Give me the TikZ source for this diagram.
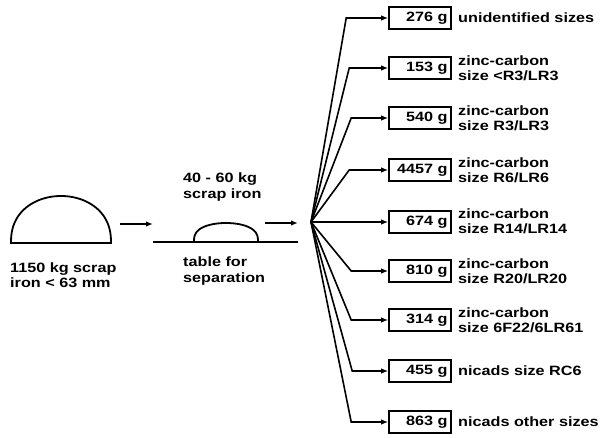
\documentclass[tikz,border=0pt]{standalone}
\usepackage{fontspec}
\newfontfamily\lab[FakeStretch=1.2]{Liberation Sans Bold}
\usetikzlibrary{arrows.meta}
\begin{document}
\begin{tikzpicture}[x=1pt,y=-1pt,
  every node/.style={font=\lab\fontsize{13.5}{15.5}\selectfont, inner sep=0pt},
  amount/.style={draw, line width=1.6pt, minimum width=62pt, minimum height=22pt, text width=55pt, align=right},
  lbl/.style={anchor=west, align=left},
  fan/.style={line width=1.6pt, -{Latex[length=7pt,width=5.5pt]}},
  outline/.style={line width=1.8pt},
]
\useasboundingbox (0,0) rectangle (610,438);

% left heap
\draw[outline] plot[domain=0:180, samples=80, smooth] ({61+50*cos(\x)}, {243-47*(sin(\x))^0.85}) -- cycle;
\node[lbl] (heaplabel) at (10,275) {1150 kg scrap\\iron < 63 mm};

% arrow to table
\coordinate (a1s) at (120,224);
\coordinate (a1e) at (153,224);
\draw[fan] (a1s) -- (a1e);

% table with small heap
\coordinate (tl) at (153,242);
\coordinate (tr) at (298,242);
\draw[line width=2.4pt] (tl) -- (tr);
\draw[outline] plot[domain=0:180, samples=80, smooth] ({226+32*cos(\x)}, {242-19*(sin(\x))^0.7});
\node[lbl] (small) at (183,187) {40 - 60 kg\\scrap iron};
\node[lbl] (table) at (183,271) {table for\\separation};

% arrow to fan
\coordinate (a2s) at (265,223);
\coordinate (a2e) at (298,223);
\draw[fan] (a2s) -- (a2e);

% fan origin
\coordinate (o) at (311,222);

% boxes
\node[amount] (b1) at (420,18) {276 g};
\node[amount] (b2) at (420,68) {153 g};
\node[amount] (b3) at (420,118) {540 g};
\node[amount] (b4) at (420,170) {4457 g};
\node[amount] (b5) at (420,222) {674 g};
\node[amount] (b6) at (420,271) {810 g};
\node[amount] (b7) at (420,320) {314 g};
\node[amount] (b8) at (420,371) {455 g};
\node[amount] (b9) at (420,422) {863 g};

% labels
\node[lbl] (l1) at (458,18) {unidentified sizes};
\node[lbl] (l2) at (458,68) {zinc-carbon\\size <R3/LR3};
\node[lbl] (l3) at (458,118) {zinc-carbon\\size R3/LR3};
\node[lbl] (l4) at (458,170) {zinc-carbon\\size R6/LR6};
\node[lbl] (l5) at (458,221) {zinc-carbon\\size R14/LR14};
\node[lbl] (l6) at (458,271) {zinc-carbon\\size R20/LR20};
\node[lbl] (l7) at (458,320) {zinc-carbon\\size 6F22/6LR61};
\node[lbl] (l8) at (458,371) {nicads size RC6};
\node[lbl] (l9) at (458,422) {nicads other sizes};

% fan connectors
\draw[fan] (o) -- ([xshift=-42pt]b1.west) -- (b1.west);
\draw[fan] (o) -- ([xshift=-39pt]b2.west) -- (b2.west);
\draw[fan] (o) -- ([xshift=-37pt]b3.west) -- (b3.west);
\draw[fan] (o) -- ([xshift=-39pt]b4.west) -- (b4.west);
\draw[fan] (o) -- (b5.west);
\draw[fan] (o) -- ([xshift=-37pt]b6.west) -- (b6.west);
\draw[fan] (o) -- ([xshift=-37pt]b7.west) -- (b7.west);
\draw[fan] (o) -- ([xshift=-36pt]b8.west) -- (b8.west);
\draw[fan] (o) -- ([xshift=-37pt]b9.west) -- (b9.west);
\end{tikzpicture}
\end{document}
